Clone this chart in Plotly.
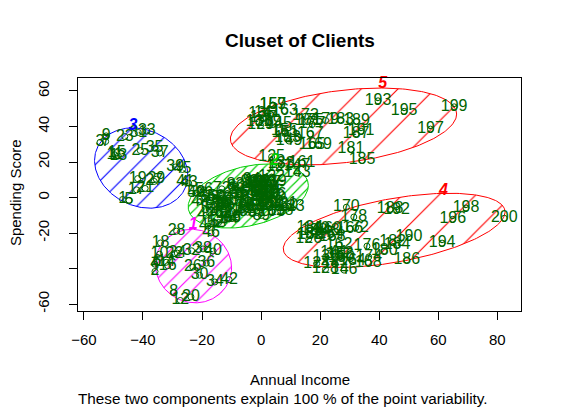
import numpy as np
import plotly.graph_objects as go

# Mall customers 1..200: annual income (k$) and spending score (1-100)
income = [15, 15, 16, 16, 17, 17, 18, 18, 19, 19,
          19, 19, 20, 20, 20, 20, 21, 21, 23, 23,
          24, 24, 25, 25, 28, 28, 28, 28, 29, 29,
          30, 30, 33, 33, 33, 33, 34, 34, 37, 37,
          38, 38, 39, 39, 39, 39, 40, 40, 40, 40,
          42, 42, 43, 43, 43, 43, 44, 44, 46, 46,
          46, 46, 47, 47, 48, 48, 48, 48, 48, 48,
          49, 49, 50, 50, 54, 54, 54, 54, 54, 54,
          54, 54, 54, 54, 54, 54, 57, 57, 58, 58,
          59, 59, 60, 60, 60, 60, 60, 60, 61, 61,
          62, 62, 62, 62, 62, 62, 63, 63, 63, 63,
          63, 63, 64, 64, 65, 65, 65, 65, 67, 67,
          67, 67, 69, 69, 70, 70, 71, 71, 71, 71,
          71, 71, 72, 72, 73, 73, 73, 73, 74, 74,
          75, 75, 76, 76, 77, 77, 77, 77, 78, 78,
          78, 78, 78, 78, 78, 78, 78, 78, 78, 78,
          79, 79, 81, 81, 85, 85, 86, 86, 87, 87,
          87, 87, 87, 87, 88, 88, 88, 88, 93, 93,
          97, 97, 98, 98, 99, 99, 101, 101, 103, 103,
          103, 103, 113, 113, 120, 120, 126, 126, 137, 137]
score = [39, 81, 6, 77, 40, 76, 6, 94, 3, 72,
         14, 99, 15, 77, 13, 79, 35, 66, 29, 98,
         35, 73, 5, 73, 14, 82, 32, 61, 31, 87,
         4, 73, 4, 92, 14, 81, 17, 73, 26, 75,
         35, 92, 36, 61, 28, 65, 55, 47, 42, 42,
         52, 60, 54, 60, 45, 41, 50, 46, 51, 46,
         56, 55, 52, 59, 51, 59, 50, 48, 59, 47,
         55, 42, 49, 56, 47, 54, 53, 48, 52, 42,
         51, 55, 41, 44, 57, 46, 58, 55, 60, 46,
         55, 41, 49, 40, 42, 52, 47, 50, 42, 49,
         41, 48, 59, 55, 56, 42, 50, 46, 43, 48,
         52, 54, 42, 46, 48, 50, 43, 59, 43, 57,
         56, 40, 58, 91, 29, 77, 35, 95, 11, 75,
         9, 75, 34, 71, 5, 88, 7, 73, 10, 72,
         5, 93, 40, 87, 12, 97, 36, 74, 22, 90,
         17, 88, 20, 76, 16, 89, 1, 78, 1, 73,
         35, 83, 5, 93, 26, 75, 20, 95, 27, 63,
         13, 75, 10, 92, 13, 86, 15, 69, 14, 90,
         32, 86, 15, 88, 39, 97, 24, 68, 17, 85,
         23, 69, 8, 91, 16, 79, 28, 74, 18, 83]
ids = [str(i + 1) for i in range(len(income))]

# cluster ellipses (plot units)
clus_ids = ['1', '2', '3', '4', '5']
clus_colors = ['#FF00FF', '#00CD00', '#0000FF', '#FF0000', '#FF0000']
ell_cx = [-22.9, -4.35, -40.6, 45.05, 27.9]
ell_cy = [-38.6, 0.85, 16.6, -18.5, 40.0]
ell_halfw = [12.9, 20.35, 15.8, 37.55, 38.3]
ell_halfh = [20.7, 18.05, 22.6, 20.9, 21.65]
ell_tilt = [-1.0, 6.0, -4.2, 10.35, 7.0]   # y offset of the rightmost point
hatch_size = [11, 6.5, 14.7, 26, 26]
clus_lab_x = [-23.0, 4.6, -43.4, 61.7, 41.2]
clus_lab_y = [-15.5, 20.5, 40.5, 3.8, 64.2]

# principal components of the two columns (like princomp)
X = np.column_stack([income, score]).astype(float)
Xc = X - X.mean(axis=0)
vals, vecs = np.linalg.eigh(np.cov(Xc.T))
vecs = vecs[:, np.argsort(vals)[::-1]]
vecs = vecs * np.sign(vecs[0])
pc = Xc @ vecs

fig = go.Figure()

t = np.linspace(0, 2 * np.pi, 241)
for i in range(len(clus_ids)):
    w, h, d = ell_halfw[i], ell_halfh[i], ell_tilt[i]
    ex = ell_cx[i] + w * np.cos(t)
    ey = ell_cy[i] + d * np.cos(t) + np.sqrt(h ** 2 - d ** 2) * np.sin(t)
    fig.add_trace(go.Scatter(
        x=ex, y=ey, mode='lines', fill='toself',
        fillcolor='rgba(0,0,0,0)',
        fillpattern=dict(shape='/', size=hatch_size[i], solidity=1.15 / hatch_size[i],
                         fgcolor=clus_colors[i], bgcolor='rgba(0,0,0,0)', fgopacity=1),
        line=dict(color=clus_colors[i], width=1),
        hoverinfo='skip'
    ))

# points with their customer number
fig.add_trace(go.Scatter(
    x=pc[:, 0], y=pc[:, 1], mode='markers+text', text=ids,
    textposition='middle center',
    textfont=dict(color='#006400', size=16, family='Liberation Sans, Arial'),
    marker=dict(symbol='circle-open', size=6, color='#006400', line=dict(width=1)),
    cliponaxis=False
))

# cluster numbers
fig.add_trace(go.Scatter(
    x=clus_lab_x, y=clus_lab_y, mode='text',
    text=['<b><i>' + c + '</i></b>' for c in clus_ids],
    textfont=dict(color=clus_colors, size=16, family='Liberation Sans, Arial'),
    cliponaxis=False
))

font = 'Liberation Sans, Arial, sans-serif'
fig.update_layout(
    width=554, height=401,
    margin=dict(l=70, r=41, t=70, b=98),
    plot_bgcolor='white', paper_bgcolor='white',
    showlegend=False,
    font=dict(family=font, size=15, color='black'),
    xaxis=dict(range=[-62.0, 88.0], tickvals=[-60, -40, -20, 0, 20, 40, 60, 80],
               ticks='outside', ticklen=8, tickcolor='black', showgrid=False, zeroline=False,
               showline=True, mirror=True, linecolor='black', linewidth=1,
               ticklabelstandoff=7),
    yaxis=dict(range=[-63.9, 67.3], tickvals=[-60, -40, -20, 0, 20, 40, 60],
               ticktext=['-60', '', '-20', '0', '20', '40', '60'], tickangle=-90,
               ticks='outside', ticklen=8, tickcolor='black', showgrid=False, zeroline=False,
               showline=True, mirror=True, linecolor='black', linewidth=1,
               ticklabelstandoff=14),
    annotations=[
        dict(text='<b>Cluset of Clients</b>', x=0.5, y=1.160, xref='paper', yref='paper',
             xanchor='center', yanchor='middle', showarrow=False, font=dict(size=19)),
        dict(text='Annual Income', x=0.5, y=-0.292, xref='paper', yref='paper',
             xanchor='center', yanchor='middle', showarrow=False),
        dict(text='These two components explain 100 % of the point variability.',
             x=0.4634, y=-0.375, xref='paper', yref='paper', xanchor='center',
             yanchor='middle', showarrow=False, font=dict(size=15.3)),
        dict(text='Spending Score', x=-0.1422, y=0.506, xref='paper', yref='paper',
             xanchor='center', yanchor='middle', textangle=-90, showarrow=False),
    ]
)

fig.write_html("out.html")
